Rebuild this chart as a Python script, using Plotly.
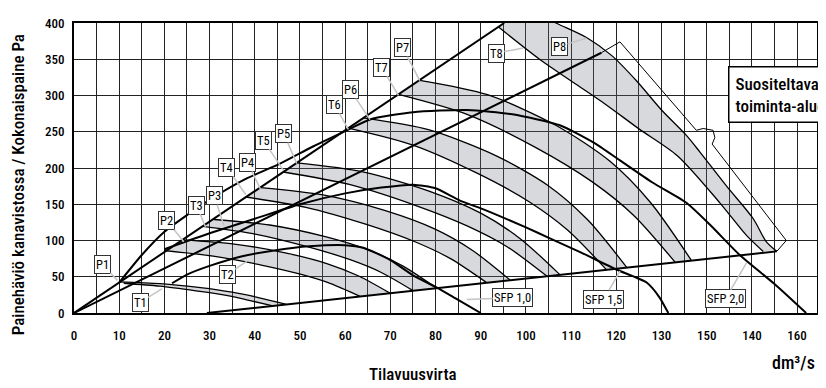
import plotly.graph_objects as go

# ---------------- data (x = dm3/s, y = Pa) ----------------
x_tick_vals = [0, 10, 20, 30, 40, 50, 60, 70, 80, 90, 100, 110, 120, 130, 140, 150, 160]
x_tick_text = ["0", "10", "20", "30", "40", "50", "60", "70", "80", "90", "100", "110", "120", "130", "150", "140", "160"]
y_tick_vals = [0, 50, 100, 150, 200, 250, 300, 350, 400]

# supply (T) and exhaust (P) fan curves per speed step
T1_x = [11, 19, 27, 34, 39, 44]
T1_y = [41, 37, 30.5, 24, 17, 9.9]
P1_x = [10, 19, 28, 35, 41, 47]
P1_y = [43, 40.5, 35, 28.7, 21, 11.9]
T2_x = [20, 30.8, 41.7, 50.3, 56.8, 63.3]
T2_y = [86, 78.4, 65.8, 53.2, 40.6, 23]
P2_x = [24, 35.5, 47, 56.1, 63, 69.9]
P2_y = [101, 95.1, 82.6, 67.9, 51, 27.4]
T3_x = [28.5, 40.1, 51.8, 61.1, 68, 75]
T3_y = [119.5, 108.9, 91.2, 73.5, 55.9, 30.9]
P3_x = [31, 43.3, 55.6, 65.4, 72.8, 80.2]
P3_y = [129, 121.4, 105.3, 86.4, 64.7, 34.4]
T4_x = [38, 51.3, 64.7, 75.3, 83.3, 91.3]
T4_y = [160, 145.8, 122.2, 98.6, 75, 41.9]
P4_x = [41.3, 55.1, 68.9, 79.9, 88.2, 96.5]
P4_y = [173, 162.8, 141.1, 115.6, 86.2, 45.4]
T5_x = [46.3, 60.9, 75.5, 87.1, 95.9, 104.6]
T5_y = [194.5, 177.3, 148.5, 119.8, 91.1, 50.9]
P5_x = [49.3, 63.9, 78.4, 90, 98.8, 107.5]
P5_y = [207, 194.7, 168.5, 137.7, 102.2, 52.9]
T6_x = [60.7, 75, 89.3, 100.7, 109.2, 117.8]
T6_y = [255, 231.6, 192.5, 153.5, 114.5, 59.8]
P6_x = [64, 78.6, 93.2, 104.8, 113.6, 122.3]
P6_y = [269, 252.5, 217.5, 176.3, 128.9, 62.9]
T7_x = [71.8, 87.1, 102.4, 114.6, 123.8, 133]
T7_y = [301.5, 273.7, 227.5, 181.2, 134.9, 70.1]
P7_x = [76.5, 91.5, 106.6, 118.6, 127.6, 136.6]
P7_y = [321, 301.1, 258.9, 209.2, 152.1, 72.6]
T8_x = [94, 103, 110.5, 117.8, 125, 133.5, 142.9, 148.8, 152.5]
T8_y = [394, 350, 318, 287, 254, 217, 152, 107, 84.8]
P8_x = [100, 107, 113.4, 119, 124.5, 130, 135.5, 138.5, 144.4, 150.3, 153.2, 155.5]
P8_y = [420, 399, 380, 355, 320, 280, 245, 222, 175, 130, 98, 85]

# SFP curves
SFP10_x = [21.7, 25, 30, 37, 45, 52, 60, 64, 70, 75, 80, 85, 90]
SFP10_y = [41, 53, 65, 78, 87, 92, 93.5, 90, 73, 52, 36, 18, 0]
SFP15_x = [20, 30, 40, 50, 60, 68, 75, 80, 85.4, 90.6, 100, 105.3, 112, 120, 126.7, 129.5, 131.5]
SFP15_y = [88, 110, 130, 150, 165, 173, 177, 172, 155, 143, 118, 103, 84, 60, 42, 22, 0]
SFP20_x = [10, 15, 20, 25, 31, 38, 45.6, 53, 60.7, 65.5, 75, 87, 97, 107.5, 115, 120.8, 128, 135.5, 141, 147.3, 155, 162]
SFP20_y = [42, 80, 112, 135, 160, 185, 206, 230, 253, 267, 277, 280, 274, 259, 235, 210.5, 180, 152, 120, 80, 40, 0]

# straight system lines
L1_x = [0, 116.7]
L1_y = [0, 359]
L2_x = [0, 95.2]
L2_y = [0, 400]
B_x = [29.4, 155.5]
B_y = [0, 85]

# recommended operating area (outer boundary)
AREA_x = [116.7, 120.8, 137.7, 139.2, 141.4, 141.8, 141.2, 157.3, 157.6, 155.5]
AREA_y = [359, 374, 252, 254.5, 252, 242, 233, 103, 100, 85]

# labels: text, tip x, tip y, offset px x, offset px y
LABELS = [
    ("P1", 9.6, 45, -15, -16), ("T1", 19.5, 33.7, -22, 14),
    ("P2", 24.3, 98.3, -17, -21), ("T2", 38.3, 71.4, -20, 13),
    ("T3", 29.1, 118.5, -9, -22), ("P3", 33.2, 120.5, -10, -30),
    ("T4", 38, 163.4, -19, -27), ("P4", 41.3, 170.3, -13, -27),
    ("T5", 46.3, 197, -20, -30), ("P5", 49.3, 206, -13, -30),
    ("T6", 60.7, 253.2, -14, -25), ("P6", 65.5, 266.7, -20, -30),
    ("T7", 71.8, 300.3, -17, -28), ("P7", 76.5, 320.5, -17, -33),
    ("T8", 99.4, 365.4, -27, 5), ("P8", 113.4, 379, -27, 8),
    ("SFP 1,0", 86.9, 18.5, 46, -2), ("SFP 1,5", 120.8, 57.9, -16, 28),
    ("SFP 2,0", 148.8, 69.1, -21, 36),
]

FONT = "Roboto Condensed, Liberation Sans Narrow, Roboto, sans-serif"

fig = go.Figure()

bands = [(T1_x, T1_y, P1_x, P1_y), (T2_x, T2_y, P2_x, P2_y), (T3_x, T3_y, P3_x, P3_y),
         (T4_x, T4_y, P4_x, P4_y), (T5_x, T5_y, P5_x, P5_y), (T6_x, T6_y, P6_x, P6_y),
         (T7_x, T7_y, P7_x, P7_y), (T8_x, T8_y, P8_x, P8_y)]
band_fill = "rgba(110,115,125,0.27)"
for tx, ty, px, py in bands:
    fig.add_trace(go.Scatter(x=tx, y=ty, mode="lines", showlegend=False, hoverinfo="skip",
                             line=dict(color="black", width=1.3, shape="spline", smoothing=0.8)))
    fig.add_trace(go.Scatter(x=px, y=py, mode="lines", showlegend=False, hoverinfo="skip",
                             fill="tonexty", fillcolor=band_fill,
                             line=dict(color="black", width=1.3, shape="spline", smoothing=0.8)))

for cx, cy in [(SFP10_x, SFP10_y), (SFP15_x, SFP15_y), (SFP20_x, SFP20_y)]:
    fig.add_trace(go.Scatter(x=cx, y=cy, mode="lines", showlegend=False, hoverinfo="skip",
                             line=dict(color="black", width=2, shape="spline", smoothing=0.6)))

for lx, ly in [(L1_x, L1_y), (L2_x, L2_y), (B_x, B_y)]:
    fig.add_trace(go.Scatter(x=lx, y=ly, mode="lines", showlegend=False, hoverinfo="skip",
                             line=dict(color="black", width=2)))

fig.add_trace(go.Scatter(x=AREA_x, y=AREA_y, mode="lines", showlegend=False, hoverinfo="skip",
                         line=dict(color="black", width=1)))

for text, x, y, ax, ay in LABELS:
    fig.add_annotation(x=x, y=y, ax=ax, ay=ay, text=text, showarrow=True, arrowhead=0,
                       arrowwidth=1.5, arrowcolor="#c4c4c4", standoff=0,
                       bgcolor="white", bordercolor="#333", borderwidth=1, borderpad=1,
                       font=dict(family=FONT, size=12.5, color="black"))

fig.add_annotation(xref="paper", yref="paper", x=0.88, y=0.852, xanchor="left", yanchor="top",
                   text="Suositeltava<br>toiminta-alue", showarrow=False, align="left",
                   bgcolor="white", bordercolor="black", borderwidth=1.5, borderpad=6,
                   font=dict(family=FONT, size=17, color="black", weight=500))

fig.add_annotation(xref="paper", yref="paper", x=-0.0754, y=0.444, textangle=-90,
                   xanchor="center", yanchor="middle",
                   text="Painehäviö kanavistossa / Kokonaispaine Pa", showarrow=False,
                   font=dict(family=FONT, size=17, color="black", weight=500))
fig.add_annotation(xref="paper", yref="paper", x=0.456, y=-0.209,
                   xanchor="center", yanchor="middle",
                   text="Tilavuusvirta", showarrow=False,
                   font=dict(family=FONT, size=17, color="black", weight=500))
fig.add_annotation(xref="paper", yref="paper", x=1.0, y=-0.17, xanchor="right", yanchor="middle",
                   text="dm³/s", showarrow=False,
                   font=dict(family=FONT, size=18, color="black", weight=500))

# the page body adds an 8 px offset, so the margins compensate for it
fig.update_layout(
    width=826, height=388,
    margin=dict(l=66, r=17, t=8, b=83),
    paper_bgcolor="white", plot_bgcolor="white",
    font=dict(family=FONT, size=12, color="black"),
    xaxis=dict(range=[0, 164.4], tickvals=x_tick_vals, ticktext=x_tick_text,
               showgrid=True, gridcolor="#222", gridwidth=1,
               minor=dict(dtick=5, tick0=0, showgrid=True, gridcolor="#222", gridwidth=1),
               showline=True, linecolor="black", linewidth=2, mirror=True,
               ticks="", ticklabelstandoff=9, zeroline=False,
               tickfont=dict(family=FONT, size=13, weight=500)),
    yaxis=dict(range=[0, 400], tickvals=y_tick_vals,
               showgrid=True, gridcolor="#222", gridwidth=1,
               showline=True, linecolor="black", linewidth=2, mirror=True,
               ticks="", ticklabelstandoff=5, zeroline=False,
               tickfont=dict(family=FONT, size=13, weight=500)),
)

fig.write_html("out.html")
